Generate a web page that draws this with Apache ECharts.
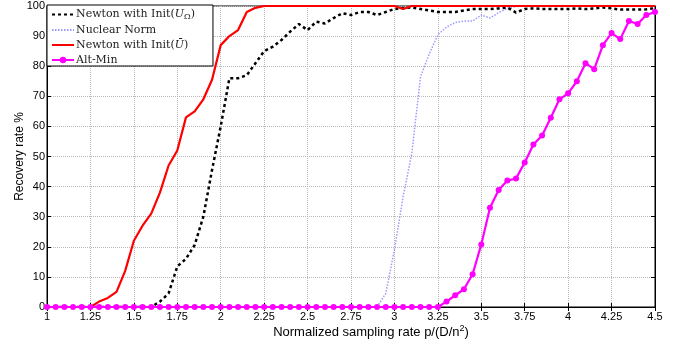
<!DOCTYPE html>
<html>
<head>
<meta charset="utf-8">
<script src="https://cdn.jsdelivr.net/npm/echarts@6/dist/echarts.min.js"></script>
<style>html,body{margin:0;padding:0;background:#fff}#c{width:678px;height:346px}</style>
</head>
<body>
<div id="c"></div>
<script>
const xs = [1.00,1.05,1.10,1.15,1.20,1.25,1.30,1.35,1.40,1.45,1.50,1.55,1.60,1.65,1.70,1.75,1.80,1.85,1.90,1.95,
2.00,2.05,2.10,2.15,2.20,2.25,2.30,2.35,2.40,2.45,2.50,2.55,2.60,2.65,2.70,2.75,2.80,2.85,2.90,2.95,
3.00,3.05,3.10,3.15,3.20,3.25,3.30,3.35,3.40,3.45,3.50,3.55,3.60,3.65,3.70,3.75,3.80,3.85,3.90,3.95,
4.00,4.05,4.10,4.15,4.20,4.25,4.30,4.35,4.40,4.45,4.50];

const newtonUOmega = [0,0,0,0,0,0,0,0,0,0,0,0,0,1.8,4.5,13.5,16,20.6,30,45.5,
60,76,76,77,81,85,86.5,88.7,91.5,94,92,94.8,94.2,96,97.6,97,98,98,97,98,
99,99.3,99.5,99,98.5,98,98,98,98.5,99,99,99,99.2,99.5,97.8,99,99.2,99,99,99,
99,99.2,99,99.2,99.5,99.2,98.8,98.8,98.8,98.9,99.3];

const nuclearNorm = [0,0,0,0,0,0,0,0,0,0,0,0,0,0,0,0,0,0,0,0,
0,0,0,0,0,0,0,0,0,0,0,0,0,0,0,0,0,0,0,4.5,
19,36.7,51,76.5,84,90.4,93,94.5,95,95,97,96,97.8,99.2,99.8,100,100,100,100,100,
100,100,100,100,100,100,100,100,100,100,100];

const newtonUBar = [0,0,0,0,0,0,1.8,3,5,12,22,27,31,38,47,52,63,65,69,75.5,
87,90,92,98,99.4,100,100,100,100,100,100,100,100,100,100,100,100,100,100,100,
100,99,100,100,100,100,100,100,100,100,100,100,100,100,100,100,100,100,100,100,
100,100,100,100,100,100,100,100,100,100,100];

const altMin = [0,0,0,0,0,0,0,0,0,0,0,0,0,0,0,0,0,0,0,0,
0,0,0,0,0,0,0,0,0,0,0,0,0,0,0,0,0,0,0,0,
0,0,0,0,0,0,1.8,3.9,5.9,10.9,20.8,33,38.9,42,42.7,48,54,57,62.9,69,
71,75,81,79,87,91,89,95,94,97,98];

const seriesNames = ['Newton with Init(U_Ω)','Nuclear Norm','Newton with Init(Ū)','Alt-Min'];

function pairs(ys){ return xs.map((x,i)=>[x,ys[i]]); }

const chart = echarts.init(document.getElementById('c'));
const serif = 'DejaVu Serif';
const sans = 'Liberation Sans';
const hideSym = {opacity:0};
chart.setOption({
  animation:false,
  backgroundColor:'#fff',
  grid:{left:47,right:23,top:6,bottom:39,show:true,borderColor:'#000',borderWidth:1,backgroundColor:'transparent'},
  legend:{
    orient:'vertical',left:47,top:5,
    data:[
      {name:seriesNames[0],itemStyle:hideSym},
      {name:seriesNames[1],itemStyle:hideSym},
      {name:seriesNames[2],itemStyle:hideSym},
      {name:seriesNames[3]}
    ],
    backgroundColor:'#fff',borderColor:'#000',borderWidth:1,borderRadius:0,
    padding:[3,18,0,4],itemGap:3,itemWidth:22,itemHeight:8,
    textStyle:{fontFamily:serif,fontSize:11,color:'#222',lineHeight:12,padding:[0,0,0,-3],
      rich:{
        it:{fontFamily:serif,fontStyle:'italic',fontSize:11,color:'#222',lineHeight:12},
        sub:{fontFamily:serif,fontStyle:'normal',fontSize:8,color:'#222',lineHeight:12,padding:[5,0,0,0]}
      }},
    formatter:function(n){
      if(n==='Newton with Init(U_Ω)') return 'Newton with Init({it|U}{sub|Ω})';
      if(n==='Newton with Init(Ū)') return 'Newton with Init({it|U\u0304})';
      return n;
    }
  },
  xAxis:[{
    type:'value',min:1,max:4.5,interval:0.25,
    name:'Normalized sampling rate p/(D/n{sup|2})',nameLocation:'middle',nameGap:17,nameMoveOverlap:false,
    nameTextStyle:{fontFamily:sans,fontSize:13,color:'#000',padding:[0,0,0,40],
      rich:{sup:{fontFamily:sans,fontSize:9,color:'#000',padding:[0,0,7,0]}}},
    axisLine:{show:true,lineStyle:{color:'#000',width:1}},
    axisTick:{show:true,inside:true,length:4,lineStyle:{color:'#000'}},
    axisLabel:{fontFamily:sans,fontSize:11,color:'#000',margin:4},
    splitLine:{show:true,lineStyle:{color:'#b8b8b8',type:'dotted',width:1}}
  },{
    type:'value',min:1,max:4.5,interval:0.25,position:'top',
    axisLine:{show:true,lineStyle:{color:'#000'}},
    axisTick:{show:true,inside:true,length:4,lineStyle:{color:'#000'}},
    axisLabel:{show:false},splitLine:{show:false}
  }],
  yAxis:[{
    type:'value',min:0,max:100,interval:10,
    name:'Recovery rate %',nameLocation:'middle',nameGap:21,nameMoveOverlap:false,
    nameTextStyle:{fontFamily:sans,fontSize:12,color:'#000'},
    axisLine:{show:true,lineStyle:{color:'#000',width:1}},
    axisTick:{show:true,inside:true,length:4,lineStyle:{color:'#000'}},
    axisLabel:{fontFamily:sans,fontSize:11,color:'#000',margin:2},
    splitLine:{show:true,lineStyle:{color:'#b8b8b8',type:'dotted',width:1}}
  },{
    type:'value',min:0,max:100,interval:10,position:'right',
    axisLine:{show:true,lineStyle:{color:'#000'}},
    axisTick:{show:true,inside:true,length:4,lineStyle:{color:'#000'}},
    axisLabel:{show:false},splitLine:{show:false}
  }],
  series:[
    {name:seriesNames[0],type:'line',data:pairs(newtonUOmega),symbol:'none',z:4,
      lineStyle:{color:'#000',width:2.5,type:[3,3]},itemStyle:{color:'#000'}},
    {name:seriesNames[1],type:'line',data:pairs(nuclearNorm),symbol:'none',z:3,
      lineStyle:{color:'#9a9aff',width:1.5,type:[1.5,1.5]},itemStyle:{color:'#9a9aff'}},
    {name:seriesNames[2],type:'line',data:pairs(newtonUBar),symbol:'none',z:5,
      lineStyle:{color:'#ff0000',width:2.2},itemStyle:{color:'#ff0000'}},
    {name:seriesNames[3],type:'line',data:pairs(altMin),symbol:'circle',symbolSize:6,z:6,
      lineStyle:{color:'#ff00ff',width:2.2},itemStyle:{color:'#ff00ff'}}
  ]
});
</script>
</body>
</html>
